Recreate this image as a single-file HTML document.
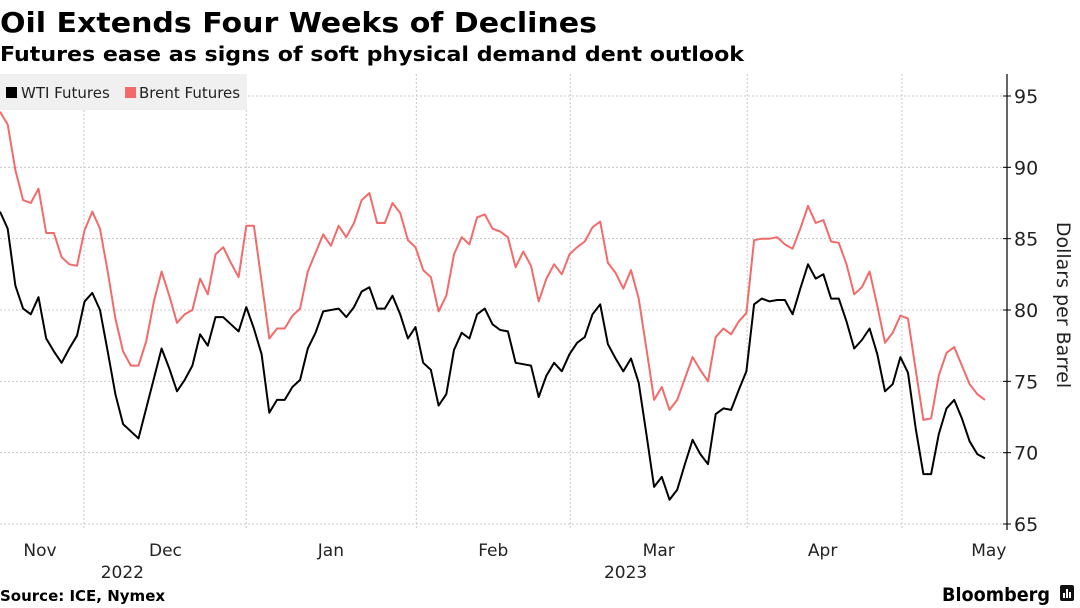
<!DOCTYPE html>
<html><head><meta charset="utf-8"><style>
html,body{margin:0;padding:0;background:#fff;width:1080px;height:608px;overflow:hidden}
svg{display:block;font-family:"DejaVu Sans","Liberation Sans",sans-serif}
</style></head><body>
<svg id="chart" width="1080" height="608" viewBox="0 0 1080 608" xmlns="http://www.w3.org/2000/svg">
<text x="0" y="32" font-size="28" font-weight="bold" textLength="597" lengthAdjust="spacingAndGlyphs">Oil Extends Four Weeks of Declines</text>
<text x="0" y="61" font-size="20" font-weight="bold" textLength="744" lengthAdjust="spacingAndGlyphs">Futures ease as signs of soft physical demand dent outlook</text>
<g id="grid"></g>
<rect x="0" y="74" width="247" height="36" fill="#f0f0f0"/>
<g><rect x="6" y="87" width="11" height="11" fill="#000"/><text x="21" y="98" font-size="15" fill="#222">WTI Futures</text></g>
<g><rect x="125" y="87" width="11" height="11" fill="#f26b6b"/><text x="139" y="98" font-size="15" fill="#222">Brent Futures</text></g>
<g id="series"></g>
<g id="axes"></g>
<text transform="translate(1057,305) rotate(90)" text-anchor="middle" font-size="19" fill="#222">Dollars per Barrel</text>
<text x="0" y="601" font-size="15" font-weight="bold">Source: ICE, Nymex</text>
<text x="942" y="601" font-size="19" font-weight="bold" textLength="108" lengthAdjust="spacingAndGlyphs">Bloomberg</text>
<g><rect x="1060" y="585" width="14" height="16" rx="2" fill="#111"/><rect x="1063" y="593" width="2" height="5" fill="#fff"/><rect x="1066" y="589" width="2" height="9" fill="#fff"/><rect x="1069" y="592" width="2" height="6" fill="#fff"/></g>
</svg>
<script>
const wti=[86.9,85.7,81.7,80.1,79.7,80.9,78.0,77.1,76.3,77.3,78.2,80.6,81.2,80.0,77.1,74.1,72.0,71.5,71.0,73.1,75.2,77.3,75.9,74.3,75.1,76.1,78.3,77.5,79.5,79.5,79.0,78.5,80.2,78.7,76.9,72.8,73.7,73.7,74.6,75.1,77.3,78.4,79.9,80.0,80.1,79.5,80.2,81.3,81.6,80.1,80.1,81.0,79.7,78.0,78.8,76.3,75.8,73.3,74.1,77.2,78.4,78.0,79.7,80.1,79.0,78.6,78.5,76.3,76.2,76.1,73.9,75.4,76.3,75.7,76.9,77.7,78.1,79.7,80.4,77.6,76.6,75.7,76.6,74.9,71.3,67.6,68.3,66.7,67.4,69.2,70.9,69.9,69.2,72.7,73.1,73.0,74.4,75.7,80.4,80.8,80.6,80.7,80.7,79.7,81.5,83.2,82.2,82.5,80.8,80.8,79.2,77.3,77.9,78.7,76.9,74.3,74.8,76.7,75.6,71.7,68.5,68.5,71.3,73.1,73.7,72.4,70.8,69.9,69.6];
const brent=[93.9,93.0,89.8,87.7,87.5,88.5,85.4,85.4,83.7,83.2,83.1,85.6,86.9,85.7,82.7,79.4,77.1,76.1,76.1,77.8,80.6,82.7,81.0,79.1,79.7,80.0,82.2,81.1,83.9,84.4,83.3,82.3,85.9,85.9,82.0,78.0,78.7,78.7,79.6,80.1,82.7,84.0,85.3,84.5,85.9,85.1,86.1,87.7,88.2,86.1,86.1,87.5,86.8,84.9,84.4,82.8,82.3,79.9,81.0,83.9,85.1,84.6,86.5,86.7,85.7,85.5,85.1,83.0,84.1,83.1,80.6,82.2,83.2,82.5,83.9,84.4,84.8,85.8,86.2,83.3,82.6,81.5,82.8,80.8,77.3,73.7,74.6,73.0,73.7,75.2,76.7,75.8,75.0,78.1,78.7,78.3,79.2,79.8,84.9,85.0,85.0,85.1,84.6,84.3,85.7,87.3,86.1,86.3,84.8,84.7,83.2,81.1,81.6,82.7,80.3,77.7,78.4,79.6,79.4,75.8,72.3,72.4,75.4,77.0,77.4,76.1,74.8,74.1,73.7];
const yTicks=[65,70,75,80,85,90,95];
const monthLabels=["Nov","Dec","Jan","Feb","Mar","Apr","May"];
const monthLabelIdx=[5.2,21.5,43,64.1,85.6,106.9,128.5];
const monthBoundaryIdx=[10.9,32,54.1,74.1,97.1,117.2];
const yearLabels=["2022","2023"];
const yearLabelIdx=[15.9,81.3];

const NS="http://www.w3.org/2000/svg";
const X0=0,STEP=985/128,YMIN=65,YMAX=95,PY0=524,PY1=96,AXX=1007;
function xs(i){return X0+i*STEP;}
function ys(v){return PY0-(v-YMIN)/(YMAX-YMIN)*(PY0-PY1);}
function mk(tag,attrs,parent){const e=document.createElementNS(NS,tag);for(const k in attrs)e.setAttribute(k,attrs[k]);parent.appendChild(e);return e;}
const grid=document.getElementById('grid'),axes=document.getElementById('axes'),series=document.getElementById('series');
yTicks.forEach(t=>{
  const g=mk('line',{x1:0,x2:AXX,y1:ys(t),y2:ys(t),stroke:'#c8c8c8','stroke-dasharray':'2,2','stroke-width':1},grid);
  
  
  const tk=mk('line',{x1:AXX-4,x2:AXX+4,y1:ys(t),y2:ys(t),stroke:'#000','stroke-width':1},axes);
  
  
  const lb=mk('text',{x:AXX+7,y:ys(t)+7,'font-size':19,fill:'#222'},axes);
  lb.textContent=t;
  
  
});
monthBoundaryIdx.forEach(m=>{
  const g=mk('line',{x1:xs(m),x2:xs(m),y1:74,y2:530,stroke:'#c8c8c8','stroke-dasharray':'2,2','stroke-width':1},grid);
  
  
});
const ax=mk('line',{x1:AXX,x2:AXX,y1:74,y2:530,stroke:'#000','stroke-width':1.2},axes);


monthLabels.forEach((m,i)=>{
  const t=mk('text',{x:xs(monthLabelIdx[i]),y:556,'font-size':17,fill:'#222','text-anchor':'middle'},axes);
  t.textContent=m;
  
  
});
yearLabels.forEach((y,i)=>{
  const t=mk('text',{x:xs(yearLabelIdx[i]),y:578,'font-size':17,fill:'#222','text-anchor':'middle'},axes);
  t.textContent=y;
  
  
});
function line(data,color,name){
  const d=data.map((v,i)=>(i?'L':'M')+xs(i).toFixed(1)+','+ys(v).toFixed(1)).join('');
  const p=mk('path',{d:d,fill:'none',stroke:color,'stroke-width':2,'stroke-linejoin':'round'},series);
  
  
}
line(brent,'#f26b6b','brent-line');
line(wti,'#000','wti-line');
</script>
</body></html>
